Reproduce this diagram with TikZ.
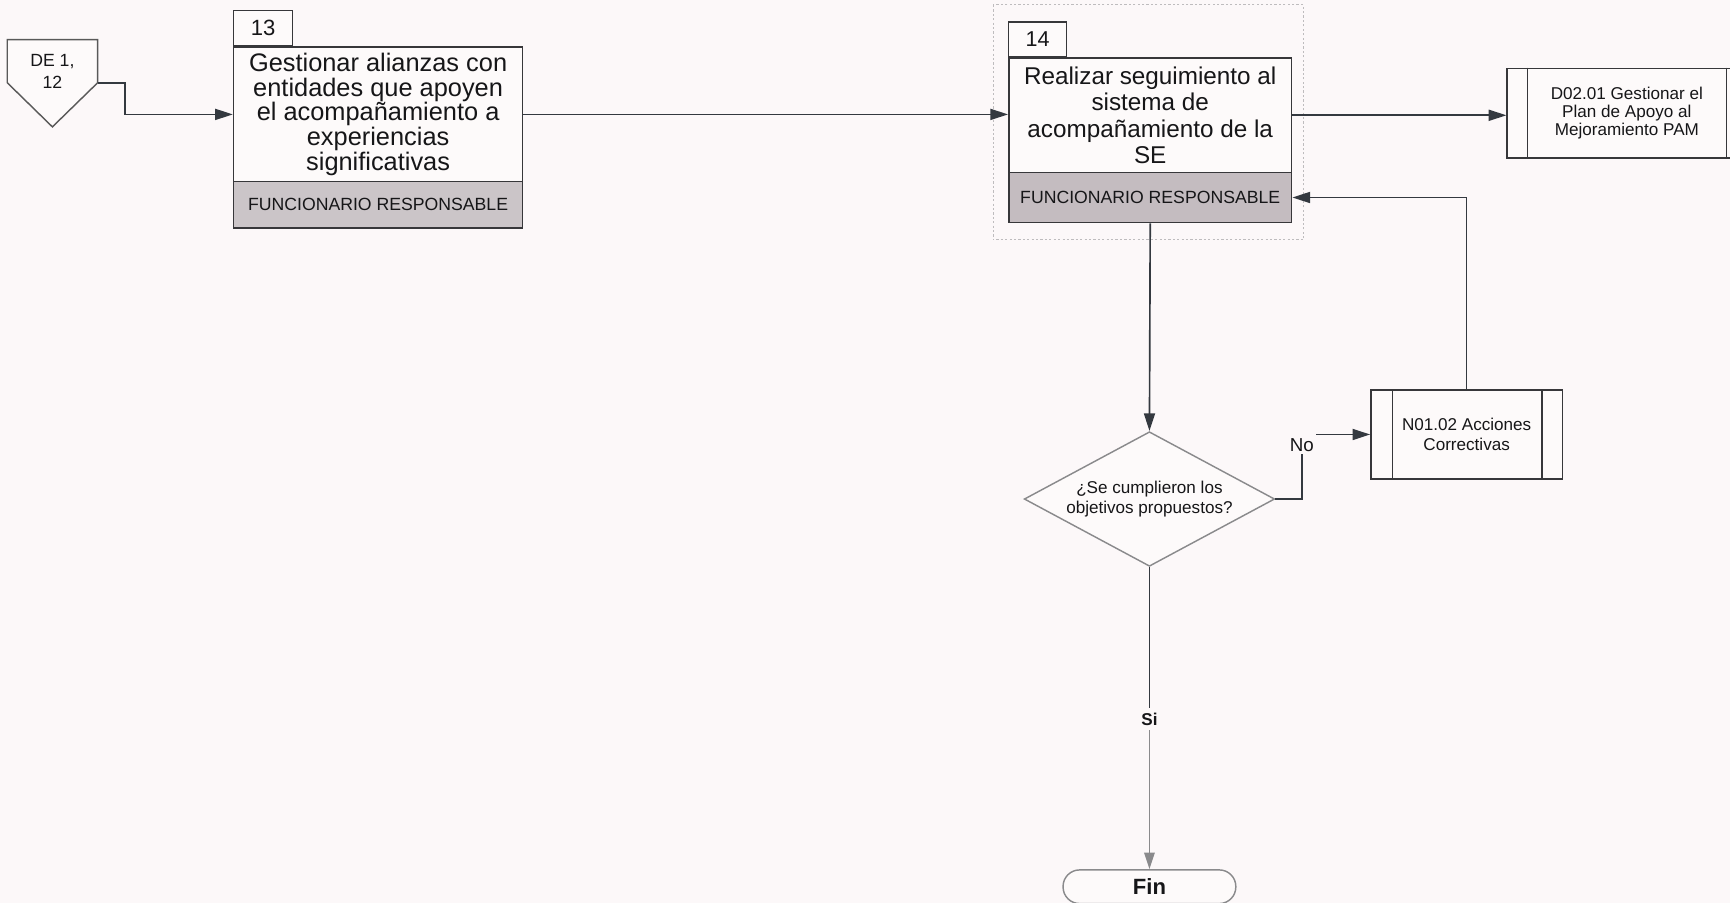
\documentclass[tikz,border=0pt]{standalone}
\usepackage{fontspec}
\setmainfont{Liberation Sans}
\usetikzlibrary{arrows.meta,shapes.geometric}

\definecolor{bgc}{RGB}{252,248,249}
\definecolor{linec}{RGB}{52,57,64}
\definecolor{boxline}{RGB}{55,55,58}
\definecolor{bandfill}{RGB}{203,197,200}
\definecolor{bandfillb}{RGB}{196,188,192}
\definecolor{boxfill}{RGB}{253,250,250}
\definecolor{txt}{RGB}{22,22,24}
\definecolor{softline}{RGB}{138,138,140}
\definecolor{framec}{RGB}{190,188,190}

\newcommand\fsz[2]{\fontsize{#1}{#2}\selectfont}

\begin{document}
\begin{tikzpicture}[x=1pt,y=-1pt,
  every node/.style={text=txt, inner sep=0pt},
  conn/.style={draw=linec, line width=1.5},
  arr/.style={-{Triangle[length=16pt,width=10pt]}},
  mainbox/.style={draw=boxline, line width=1.4, fill=boxfill, align=center, anchor=north west},
  bandbox/.style={draw=boxline, line width=1.4, fill=bandfill, anchor=north west, font=\fsz{16}{18}},
  tabbox/.style={draw=boxline, line width=1.3, fill=boxfill, anchor=south west, font=\fsz{20}{22}},
  procbox/.style={draw=boxline, line width=1.4, fill=boxfill, align=center, font=\fsz{15.5}{16.4}},
  decision/.style={shape=diamond, shape aspect=1.86, draw=softline, line width=1.3, fill=boxfill, align=center,
    minimum width=227, minimum height=122, font=\fsz{15.5}{18.4}},
  terminal/.style={draw=softline, line width=1.3, fill=boxfill, rounded corners=15,
    minimum width=156.6, minimum height=30.5, font=\bfseries\fsz{20}{22}},
  lbl/.style={fill=bgc, inner sep=2pt}
]
\useasboundingbox (0,0) rectangle (1568,818);
\clip (0,0) rectangle (1568,818);
\fill[bgc] (0,0) rectangle (1568,818);

% off-page reference
\draw[draw=gray!70!black, line width=1.3, fill=boxfill]
  (6.6,36) -- (88.5,36) -- (88.5,75) -- (47.5,115) -- (6.6,75) -- cycle;
\node[align=center, font=\fsz{16}{20}] (offp) at (47.5,64.5) {DE 1,\\12};
\coordinate (offpr) at (88.5,75);

% activity 13
\node[mainbox, minimum width=262, minimum height=122, font=\fsz{23}{22.6}] (b13) at (211,42)
  {Gestionar alianzas con\\entidades que apoyen\\el acompañamiento a\\experiencias\\significativas};
\node[bandbox, minimum width=262, minimum height=42] (r13) at (211,164) {FUNCIONARIO RESPONSABLE};
\node[tabbox, minimum width=53.5, minimum height=32] (t13) at (211,42) {13};

% activity 14 with its dotted frame
\draw[framec, line width=0.9, dash pattern=on 2pt off 2pt] (900,4.5) rectangle (1181.5,217.5);
\node[mainbox, minimum width=256.4, minimum height=103.6, font=\fsz{22}{23.7}] (b14) at (913.6,52)
  {Realizar seguimiento al\\sistema de\\acompañamiento de la\\SE};
\node[bandbox, fill=bandfillb, minimum width=256.4, minimum height=45.4] (r14) at (913.6,155.6) {FUNCIONARIO RESPONSABLE};
\node[tabbox, minimum width=52.4, minimum height=31.5, font=\fsz{19.5}{22}] (t14) at (913.6,52) {14};

% linked procedures
\node[procbox, minimum width=217, minimum height=81] (d02) at (1474.5,102.5)
  {D02.01 Gestionar el\\Plan de Apoyo al\\Mejoramiento PAM};
\draw[boxline, line width=1.3] ([xshift=19]d02.north west) -- ([xshift=19]d02.south west);
\draw[boxline, line width=1.3] ([xshift=-19]d02.north east) -- ([xshift=-19]d02.south east);

\node[procbox, minimum width=173.5, minimum height=80.4, font=\fsz{15.5}{18}] (n01) at (1329.3,393.8)
  {N01.02 Acciones\\Correctivas};
\draw[boxline, line width=1.3] ([xshift=20.2]n01.north west) -- ([xshift=20.2]n01.south west);
\draw[boxline, line width=1.3] ([xshift=-19]n01.north east) -- ([xshift=-19]n01.south east);

% decision and end
\node[decision] (dec) at (1041.8,452.3) {¿Se cumplieron los\\objetivos propuestos?};
\node[terminal] (fin) at (1041.8,803.7) {Fin};

% labels on connectors
\node[lbl, font=\fsz{17}{19}] (no) at (1180,403.5) {No};
\node[lbl, inner sep=4pt, font=\bfseries\fsz{15.5}{17}] (si) at (1041.8,652) {Si};

% connectors
\draw[conn, arr] (offpr) -- ++(24.5,0) |- (b13.west);
\draw[conn, arr] (b13.east) -- (b13.east -| b14.west);
\draw[conn, arr] (b14.east) -- (b14.east -| d02.west);
\draw[conn, arr] (r14.south) -- (dec.north);
\draw[conn] (dec.east) -| (no.south);
\draw[conn, arr] (no.east |- n01.west) -- (n01.west);
\draw[conn, arr] (n01.north) |- (r14.east);
\draw[conn] (dec.south) -- (si.north);
\draw[conn, draw=softline, -{Triangle[length=15pt,width=9.5pt]}] (si.south) -- (fin.north);
\end{tikzpicture}
\end{document}
